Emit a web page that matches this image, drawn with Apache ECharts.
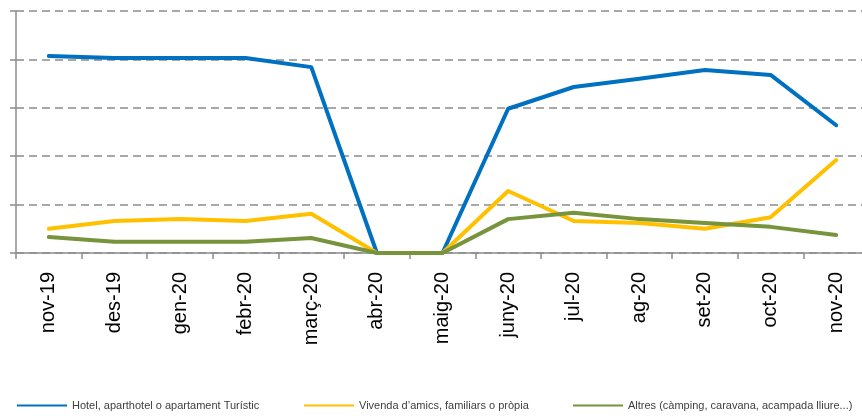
<!DOCTYPE html>
<html>
<head>
<meta charset="utf-8">
<script src="https://cdn.jsdelivr.net/npm/echarts@6/dist/echarts.min.js"></script>
<style>
  html, body { margin: 0; padding: 0; background: #fff; overflow: hidden; }
  /* the plot area runs past the right edge of the window, as in the original */
  #chart { width: 869px; height: 416px; }
</style>
</head>
<body>
<div id="chart"></div>
<script>
// months shown on the x axis
const months = ['nov-19', 'des-19', 'gen-20', 'febr-20', 'març-20', 'abr-20', 'maig-20',
    'juny-20', 'jul-20', 'ag-20', 'set-20', 'oct-20', 'nov-20'];

// series names as in the legend
const hotelName = 'Hotel, aparthotel o apartament Turístic';
const vivendaName = 'Vivenda d’amics, familiars o pròpia';
const altresName = 'Altres (càmping, caravana, acampada lliure...)';

// values (axis has no labels, units are grid steps)
const hotel = [4.07, 4.03, 4.03, 4.03, 3.84, 0, 0, 2.98, 3.43, 3.6, 3.78, 3.68, 2.64];
const vivenda = [0.5, 0.66, 0.7, 0.66, 0.81, 0, 0, 1.28, 0.66, 0.62, 0.5, 0.74, 1.92];
const altres = [0.33, 0.23, 0.23, 0.23, 0.31, 0, 0, 0.7, 0.83, 0.7, 0.62, 0.54, 0.37];

const axisGray = '#8c8c8c';
const font = '"Liberation Sans", Arial, sans-serif';

function legendAt(name, left) {
    return {
        data: [name],
        left: left,
        top: 395,
        icon: 'rect',
        itemWidth: 50,
        itemHeight: 2,
        itemGap: 0,
        textStyle: { fontFamily: font, fontSize: 11, color: '#404040', padding: [0, 0, 0, 0] }
    };
}

function lineSeries(name, values, color) {
    return {
        name: name,
        type: 'line',
        data: values,
        symbol: 'none',
        lineStyle: { width: 4, color: color, cap: 'round', join: 'round' },
        itemStyle: { color: color }
    };
}

const chart = echarts.init(document.getElementById('chart'), null, { renderer: 'canvas' });

chart.setOption({
    animation: false,
    backgroundColor: '#fff',
    grid: { left: 16, right: 0, top: 11, height: 242, containLabel: false },
    legend: [
        legendAt(hotelName, 12),
        legendAt(vivendaName, 299),
        legendAt(altresName, 568)
    ],
    xAxis: {
        type: 'category',
        data: months,
        boundaryGap: true,
        axisLine: { lineStyle: { color: axisGray, width: 1.5 } },
        axisTick: { show: true, length: 6, lineStyle: { color: axisGray, width: 1.5 } },
        axisLabel: {
            rotate: 90,
            margin: 19,
            interval: 0,
            fontFamily: font,
            fontSize: 20,
            color: '#000'
        },
        splitLine: { show: false }
    },
    yAxis: {
        type: 'value',
        min: 0,
        max: 5,
        interval: 1,
        axisLine: { show: true, lineStyle: { color: axisGray, width: 1.5 } },
        axisTick: { show: true, inside: false, length: 6, lineStyle: { color: axisGray, width: 1.5 } },
        axisLabel: { show: false },
        splitLine: { show: true, lineStyle: { color: axisGray, width: 1.5, type: [8, 5] } }
    },
    series: [
        lineSeries(hotelName, hotel, '#0070C0'),
        lineSeries(vivendaName, vivenda, '#FFC000'),
        lineSeries(altresName, altres, '#77933C')
    ]
});
</script>
</body>
</html>
